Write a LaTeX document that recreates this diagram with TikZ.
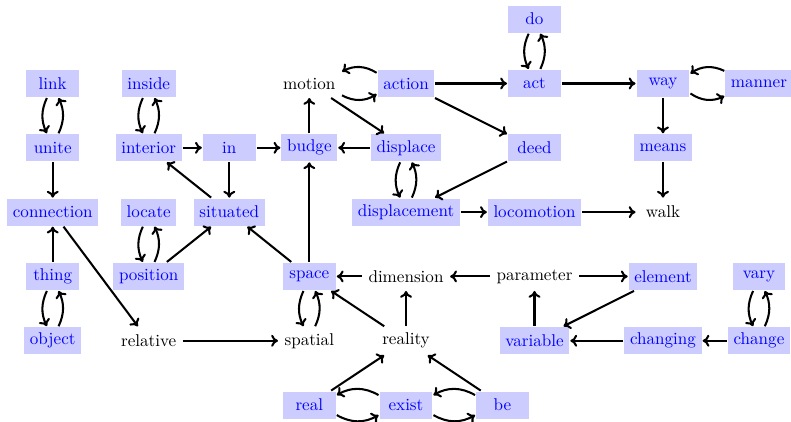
\documentclass[tikz,border=0pt]{standalone}
\usepackage{xcolor}
\usepackage{tikz}
\usetikzlibrary{positioning}
\usetikzlibrary{arrows.meta}
\tikzset{%
  term/.style = {rectangle, fill = blue!20, text = blue, inner sep = 3.3pt,
    minimum height = 0.556cm, minimum width = 1.09cm}, % concept
  word/.style = {rectangle, inner sep = 3.3pt,
    minimum height = 0.556cm, minimum width = 1.09cm}  % plain word
}

\begin{document}
\begin{tikzpicture}[very thick, node distance=1.325cm, >={To[length=4pt, width=7pt]}]

	\useasboundingbox (0,0) rectangle (16.295,8.673);

	% first column
	\draw node at (1.086,6.953) [term] (link) {link};
	\draw node [term, below of=link] (unite) {unite};
	\draw node [term, below of=unite] (connection) {connection};
	\draw node [term, below of=connection] (thing) {thing};
	\draw node [term, below of=thing] (object) {object};

	\draw node [term, right of=link, node distance = 1.977cm] (inside) {inside};
	\draw node [term, below of=inside] (interior) {interior};
	\draw node [term, below of=interior] (locate) {locate};
	\draw node [term, below of=locate] (position) {position};
	\draw node [word, below of=position] (relative) {relative};

	\draw node [term, right of=interior, node distance = 1.661cm] (in) {in};
	\draw node [term, below of=in] (situated) {situated};

	\draw node [term, right of=in, node distance = 1.648cm] (budge) {budge};
	\draw node [word, above of=budge] (motion) {motion};
	\draw node [term, below of=budge, node distance = 2.65cm] (space) {space};
	\draw node [word, below of=space] (spatial) {spatial};
	\draw node [term, below of=spatial] (real) {real};

	% middle
	\draw node [term, right of=motion, node distance = 1.992cm] (action) {action};
	\draw node [term, below of=action] (displace) {displace};
	\draw node [term, below of=displace] (displacement) {displacement};
	\draw node [word, below of=displacement] (dimension) {dimension};
	\draw node [word, below of=dimension] (reality) {reality};
	\draw node [term, below of=reality] (exist) {exist};
	\draw node [term, right of=exist, node distance = 1.988cm] (be) {be};

	\draw node [term, right of=action, node distance = 2.647cm] (act) {act};
	\draw node [term, above of=act] (do) {do};
	\draw node [term, below of=act] (deed) {deed};
	\draw node [term, below of=deed] (locomotion) {locomotion};
	\draw node [word, below of=locomotion] (parameter) {parameter};
	\draw node [term, below of=parameter] (variable) {variable};

	% right side
	\draw node [term, right of=act, node distance = 2.647cm] (way) {way};
	\draw node [term, right of=way, node distance = 1.977cm] (manner) {manner};
	\draw node [term, below of=way] (means) {means};
	\draw node [word, below of=means] (walk) {walk};
	\draw node [term, below of=walk] (element) {element};
	\draw node [term, below of=element] (changing) {changing};
	\draw node [term, right of=element, node distance = 1.977cm] (vary) {vary};
	\draw node [term, below of=vary] (change) {change};

	% pairs, one above the other
	\foreach \up/\down in {link/unite, inside/interior, locate/position,
	    thing/object, do/act, displace/displacement, space/spatial, vary/change}{
		\draw[->] (\up.-112) to[bend right=25] (\down.112);
		\draw[->] (\down.68) to[bend right=25] (\up.-68);
	}
	% pairs side by side
	\foreach \left/\right in {motion/action, way/manner, real/exist, exist/be}{
		\draw[->] (\left.-20) to[bend right] (\right.-160);
		\draw[->] (\right.160) to[bend right] (\left.20);
	}

	% single arrows
	\draw[->] (unite) -- (connection);
	\draw[->] (thing) -- (connection);
	\draw[->] (connection) -- (relative);
	\draw[->] (relative) -- (spatial);
	\draw[->] (interior) -- (in);
	\draw[->] (in) -- (budge);
	\draw[->] (in) -- (situated);
	\draw[->] (situated) -- (interior);
	\draw[->] (position) -- (situated);
	\draw[->] (space) -- (situated);
	\draw[->] (space) -- (budge);
	\draw[->] (budge) -- (motion);
	\draw[->] (displace) -- (budge);
	\draw[->] (motion) -- (displace);
	\draw[->] (action) -- (act);
	\draw[->] (action) -- (deed);
	\draw[->] (deed) -- (displacement);
	\draw[->] (displacement) -- (locomotion);
	\draw[->] (locomotion) -- (walk);
	\draw[->] (act) -- (way);
	\draw[->] (way) -- (means);
	\draw[->] (means) -- (walk);
	\draw[->] (dimension) -- (space);
	\draw[->] (reality) -- (space);
	\draw[->] (reality) -- (dimension);
	\draw[->] (real) -- (reality);
	\draw[->] (be) -- (reality);
	\draw[->] (parameter) -- (dimension);
	\draw[->] (parameter) -- (element);
	\draw[->] (variable) -- (parameter);
	\draw[->] (element) -- (variable);
	\draw[->] (changing) -- (variable);
	\draw[->] (change) -- (changing);

\end{tikzpicture}
\end{document}
